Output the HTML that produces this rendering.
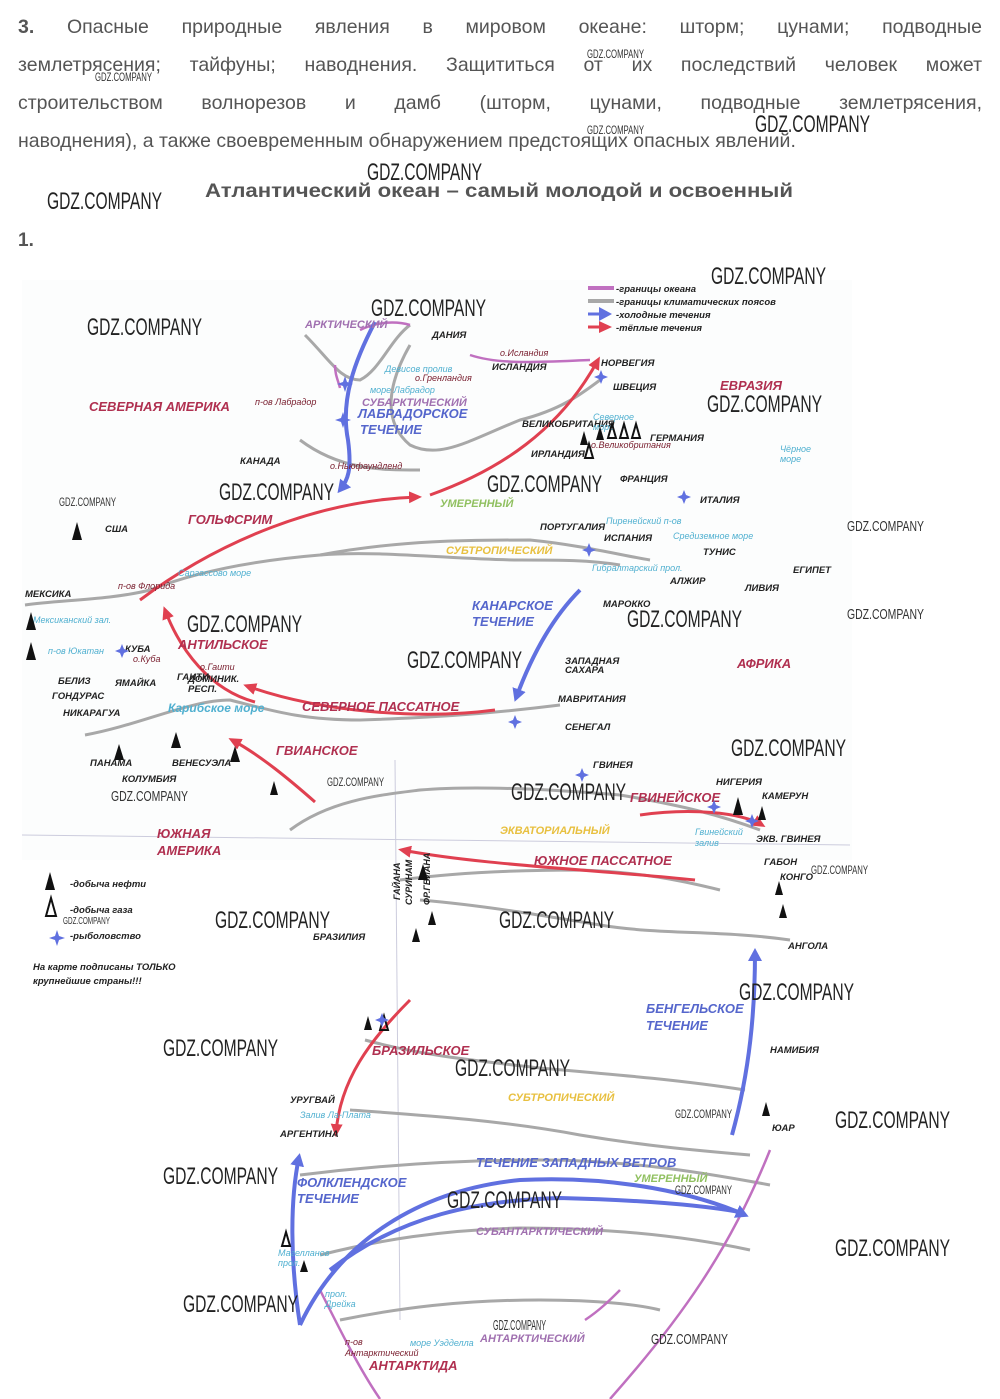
<!DOCTYPE html>
<html><head><meta charset="utf-8">
<style>
html,body{margin:0;padding:0;background:#fff;}
body{width:1000px;height:1399px;position:relative;overflow:hidden;font-family:"Liberation Sans",sans-serif;}
.p{position:absolute;left:18px;width:964px;font-size:19.5px;color:#555;line-height:38px;text-align:justify;text-align-last:justify;}
svg{position:absolute;left:0;top:0;}
.wm{font-family:"Liberation Sans",sans-serif;fill:#222;font-size:24px;}
.wms{font-family:"Liberation Sans",sans-serif;fill:#333;font-size:12px;}
.red{fill:#b03050;font-weight:bold;font-style:italic;font-size:13px;}
.blu{fill:#5566cc;font-weight:bold;font-style:italic;font-size:13px;}
.blk{fill:#222;font-weight:bold;font-style:italic;font-size:9.5px;}
.yel{fill:#e8c040;font-weight:bold;font-style:italic;font-size:11px;}
.vio{fill:#a070b0;font-weight:bold;font-style:italic;font-size:11px;}
.sea{fill:#50b0d0;font-style:italic;font-size:9px;}
.g{fill:none;stroke:#a8a8a8;stroke-width:3;}
.pu{fill:none;stroke:#c070c0;stroke-width:2.5;}
.r{fill:none;stroke:#e04050;stroke-width:3;}
.b{fill:none;stroke:#6070e0;stroke-width:4;}
</style></head><body>
<div class="p" style="top:8px"><b>3.</b> Опасные природные явления в мировом океане: шторм; цунами; подводные</div>
<div class="p" style="top:46px">землетрясения; тайфуны; наводнения. Защититься от их последствий человек может</div>
<div class="p" style="top:84px">строительством волнорезов и дамб (шторм, цунами, подводные землетрясения,</div>
<div class="p" style="top:122px;text-align-last:left">наводнения), а также своевременным обнаружением предстоящих опасных явлений.</div>
<svg width="1000" height="1399" viewBox="0 0 1000 1399">
<defs>
<marker id="ar" markerWidth="14" markerHeight="12" refX="9" refY="6" orient="auto" markerUnits="userSpaceOnUse"><path d="M0,0 L13,6 L0,12 z" fill="#e04050"/></marker>
<marker id="ab" markerWidth="14" markerHeight="14" refX="9" refY="7" orient="auto" markerUnits="userSpaceOnUse"><path d="M0,0 L13,7 L0,14 z" fill="#6070e0"/></marker>
</defs>
<text x="205" y="197" font-size="19" font-weight="bold" fill="#555" textLength="588" lengthAdjust="spacingAndGlyphs">Атлантический океан – самый молодой и освоенный</text>
<text x="18" y="246" font-size="19" font-weight="bold" fill="#555">1.</text>
<rect x="22" y="280" width="830" height="580" fill="#fcfdfd"/>
<path d="M395,760 L400,1320" stroke="#ccd" stroke-width="1" fill="none"/>
<path d="M22,835 L850,845" stroke="#ccd" stroke-width="1" fill="none"/>
<path class="g" d="M305,335 C330,360 340,380 360,380 C380,370 390,340 410,325"/>
<path class="g" d="M410,345 C390,380 380,420 410,445 C440,460 470,440 520,420 C560,410 580,395 600,380"/>
<path class="g" d="M300,440 C340,470 380,470 420,470"/>
<path class="g" d="M25,605 C60,600 110,600 150,590 C200,570 260,560 320,555 C400,540 470,540 530,540 C580,545 620,555 650,560"/>
<path class="g" d="M320,555 C380,550 460,560 520,560 C560,560 590,560 620,565"/>
<path class="g" d="M85,735 C140,725 190,700 230,700 C270,710 300,720 360,720 C420,718 480,715 560,705"/>
<path class="g" d="M290,830 C330,800 380,795 420,790 C480,785 560,790 620,795 C680,805 720,815 760,830"/>
<path class="g" d="M400,880 C460,872 520,870 580,870 C640,872 680,880 720,890"/>
<path class="g" d="M420,900 C480,905 540,915 600,925 C660,935 720,930 790,940"/>
<path class="g" d="M365,1040 C420,1055 470,1060 540,1068 C620,1075 680,1080 745,1090"/>
<path class="g" d="M350,1110 C420,1115 500,1120 580,1135 C640,1145 690,1150 750,1155"/>
<path class="g" d="M300,1175 C380,1165 460,1160 540,1160 C620,1160 690,1170 770,1185"/>
<path class="g" d="M320,1255 C380,1240 440,1230 520,1228 C600,1228 680,1235 750,1250"/>
<path class="g" d="M340,1320 C400,1308 460,1300 540,1300 C600,1300 640,1305 660,1310"/>
<path class="pu" d="M360,330 C380,320 400,322 410,325"/>
<path class="pu" d="M335,365 C335,375 338,380 340,388"/>
<path class="pu" d="M470,355 C500,365 540,362 590,360"/>
<path class="pu" d="M770,1150 C730,1250 680,1320 610,1399"/>
<path class="pu" d="M320,1290 C340,1330 360,1370 380,1399"/>
<path class="pu" d="M585,1320 C600,1310 610,1300 620,1290"/>
<line x1="588" y1="288" x2="614" y2="288" stroke="#c070c0" stroke-width="4"/>
<line x1="588" y1="301" x2="614" y2="301" stroke="#a8a8a8" stroke-width="4"/>
<line x1="588" y1="314" x2="608" y2="314" stroke="#6070e0" stroke-width="3" marker-end="url(#ab)"/>
<line x1="588" y1="327" x2="608" y2="327" stroke="#e04050" stroke-width="3" marker-end="url(#ar)"/>
<text x="616" y="292" class="blk" font-size="10">-границы океана</text>
<text x="616" y="305" class="blk" font-size="10">-границы климатических поясов</text>
<text x="616" y="318" class="blk" font-size="10">-холодные течения</text>
<text x="616" y="331" class="blk" font-size="10">-тёплые течения</text>
<path class="r" d="M140,600 C220,540 320,500 418,497" marker-end="url(#ar)"/>
<path class="r" d="M430,495 C500,470 560,430 598,360" marker-end="url(#ar)"/>
<path class="r" d="M255,702 C210,690 180,650 165,610" marker-end="url(#ar)"/>
<path class="r" d="M495,710 C420,720 320,712 247,686" marker-end="url(#ar)"/>
<path class="r" d="M315,802 C290,780 260,755 232,740" marker-end="url(#ar)"/>
<path class="r" d="M640,815 C690,808 740,812 762,825" marker-end="url(#ar)"/>
<path class="r" d="M695,880 C600,870 480,865 402,850" marker-end="url(#ar)"/>
<path class="r" d="M410,1000 C370,1040 340,1080 336,1133" marker-end="url(#ar)"/>
<path class="b" d="M375,322 C355,360 340,400 348,440 C352,470 348,480 340,490" marker-end="url(#ab)"/>
<path class="b" d="M580,590 C550,620 530,660 516,698" marker-end="url(#ab)"/>
<path class="b" d="M732,1135 C750,1070 755,1010 755,952" marker-end="url(#ab)"/>
<path class="b" d="M300,1325 C290,1260 290,1200 299,1157" marker-end="url(#ab)"/>
<path class="b" d="M300,1325 C340,1240 420,1190 520,1180 C620,1175 700,1195 745,1215" marker-end="url(#ab)"/>
<path class="b" d="M330,1270 C400,1215 480,1200 560,1198 C640,1200 700,1205 740,1212"/>
<text x="89" y="411" class="red">СЕВЕРНАЯ АМЕРИКА</text>
<text x="720" y="390" class="red">ЕВРАЗИЯ</text>
<text x="188" y="524" class="red">ГОЛЬФСРИМ</text>
<text x="178" y="649" class="red">АНТИЛЬСКОЕ</text>
<text x="302" y="711" class="red">СЕВЕРНОЕ ПАССАТНОЕ</text>
<text x="276" y="755" class="red">ГВИАНСКОЕ</text>
<text x="630" y="802" class="red">ГВИНЕЙСКОЕ</text>
<text x="534" y="865" class="red">ЮЖНОЕ ПАССАТНОЕ</text>
<text x="372" y="1055" class="red">БРАЗИЛЬСКОЕ</text>
<text x="737" y="668" class="red">АФРИКА</text>
<text x="157" y="838" class="red">ЮЖНАЯ</text>
<text x="157" y="855" class="red">АМЕРИКА</text>
<text x="369" y="1370" class="red">АНТАРКТИДА</text>
<text x="358" y="418" class="blu">ЛАБРАДОРСКОЕ</text>
<text x="360" y="434" class="blu">ТЕЧЕНИЕ</text>
<text x="472" y="610" class="blu">КАНАРСКОЕ</text>
<text x="472" y="626" class="blu">ТЕЧЕНИЕ</text>
<text x="646" y="1013" class="blu">БЕНГЕЛЬСКОЕ</text>
<text x="646" y="1030" class="blu">ТЕЧЕНИЕ</text>
<text x="297" y="1187" class="blu">ФОЛКЛЕНДСКОЕ</text>
<text x="297" y="1203" class="blu">ТЕЧЕНИЕ</text>
<text x="476" y="1167" class="blu" font-size="12">ТЕЧЕНИЕ ЗАПАДНЫХ ВЕТРОВ</text>
<text x="305" y="328" class="vio">АРКТИЧЕСКИЙ</text>
<text x="362" y="406" class="vio">СУБАРКТИЧЕСКИЙ</text>
<text x="446" y="554" class="yel">СУБТРОПИЧЕСКИЙ</text>
<text x="440" y="507" style="fill:#90c060;font-weight:bold;font-style:italic;font-size:11px">УМЕРЕННЫЙ</text>
<text x="500" y="834" class="yel">ЭКВАТОРИАЛЬНЫЙ</text>
<text x="508" y="1101" class="yel">СУБТРОПИЧЕСКИЙ</text>
<text x="476" y="1235" class="vio">СУБАНТАРКТИЧЕСКИЙ</text>
<text x="634" y="1182" style="fill:#90c060;font-weight:bold;font-style:italic;font-size:11px">УМЕРЕННЫЙ</text>
<text x="480" y="1342" class="vio">АНТАРКТИЧЕСКИЙ</text>
<g class="blk">
<text x="432" y="338">ДАНИЯ</text><text x="492" y="370">ИСЛАНДИЯ</text><text x="601" y="366">НОРВЕГИЯ</text>
<text x="613" y="390">ШВЕЦИЯ</text><text x="522" y="427">ВЕЛИКОБРИТАНИЯ</text><text x="531" y="457">ИРЛАНДИЯ</text>
<text x="650" y="441">ГЕРМАНИЯ</text><text x="620" y="482">ФРАНЦИЯ</text><text x="700" y="503">ИТАЛИЯ</text>
<text x="540" y="530">ПОРТУГАЛИЯ</text><text x="604" y="541">ИСПАНИЯ</text><text x="703" y="555">ТУНИС</text>
<text x="670" y="584">АЛЖИР</text><text x="745" y="591">ЛИВИЯ</text><text x="793" y="573">ЕГИПЕТ</text>
<text x="603" y="607">МАРОККО</text><text x="565" y="664">ЗАПАДНАЯ</text><text x="565" y="673">САХАРА</text>
<text x="558" y="702">МАВРИТАНИЯ</text><text x="565" y="730">СЕНЕГАЛ</text><text x="593" y="768">ГВИНЕЯ</text>
<text x="716" y="785">НИГЕРИЯ</text><text x="762" y="799">КАМЕРУН</text><text x="756" y="842">ЭКВ. ГВИНЕЯ</text>
<text x="764" y="865">ГАБОН</text><text x="780" y="880">КОНГО</text><text x="788" y="949">АНГОЛА</text>
<text x="770" y="1053">НАМИБИЯ</text><text x="772" y="1131">ЮАР</text>
<text x="240" y="464">КАНАДА</text><text x="105" y="532">США</text><text x="25" y="597">МЕКСИКА</text>
<text x="125" y="652">КУБА</text><text x="115" y="686">ЯМАЙКА</text><text x="58" y="684">БЕЛИЗ</text>
<text x="52" y="699">ГОНДУРАС</text><text x="63" y="716">НИКАРАГУА</text><text x="177" y="680">ГАИТИ</text>
<text x="188" y="682">ДОМИНИК.</text><text x="188" y="692">РЕСП.</text><text x="90" y="766">ПАНАМА</text>
<text x="122" y="782">КОЛУМБИЯ</text><text x="172" y="766">ВЕНЕСУЭЛА</text><text x="313" y="940">БРАЗИЛИЯ</text>
<text x="290" y="1103">УРУГВАЙ</text><text x="280" y="1137">АРГЕНТИНА</text>
<text x="70" y="887">-добыча нефти</text><text x="70" y="913">-добыча газа</text><text x="70" y="939">-рыболовство</text>
<text x="33" y="970">На карте подписаны ТОЛЬКО</text><text x="33" y="984">крупнейшие страны!!!</text>
</g>
<text x="168" y="712" style="fill:#50b0d0;font-weight:bold;font-style:italic;font-size:12px">Карибское море</text>
<g class="sea">
<text x="385" y="372">Девисов пролив</text><text x="370" y="393">море Лабрадор</text><text x="593" y="420">Северное</text><text x="593" y="430">море</text>
<text x="606" y="524">Пиренейский п-ов</text><text x="673" y="539">Средиземное море</text><text x="592" y="571">Гибралтарский прол.</text>
<text x="178" y="576">Саргассово море</text><text x="33" y="623">Мексиканский зал.</text><text x="48" y="654">п-ов Юкатан</text>
<text x="695" y="835">Гвинейский</text><text x="695" y="846">залив</text><text x="300" y="1118">Залив Ла-Плата</text>
<text x="278" y="1256">Магелланов</text><text x="278" y="1266">прол.</text><text x="325" y="1297">прол.</text><text x="325" y="1307">Дрейка</text>
<text x="410" y="1346">море Уэдделла</text><text x="780" y="452">Чёрное</text><text x="780" y="462">море</text>
</g>
<g font-size="9" font-style="italic" fill="#7a2030">
<text x="255" y="405">п-ов Лабрадор</text><text x="330" y="469">о.Ньюфаундленд</text><text x="415" y="381">о.Гренландия</text>
<text x="500" y="356">о.Исландия</text><text x="591" y="448">о.Великобритания</text><text x="118" y="589">п-ов Флорида</text>
<text x="133" y="662">о.Куба</text><text x="200" y="670">о.Гаити</text><text x="345" y="1345">п-ов</text><text x="345" y="1356">Антарктический</text>
</g>
<g font-weight="bold" font-style="italic" font-size="9" fill="#222">
<text x="400" y="900" transform="rotate(-90 400 900)">ГАЙАНА</text>
<text x="412" y="905" transform="rotate(-90 412 905)">СУРИНАМ</text>
<text x="430" y="905" transform="rotate(-90 430 905)">ФР.ГВИАНА</text>
</g>
<g fill="#111">
<path d="M45,890 l5,-18 l5,18z"/><path d="M26,630 l5,-18 l5,18z"/><path d="M26,660 l5,-18 l5,18z"/>
<path d="M72,540 l5,-18 l5,18z"/><path d="M114,760 l5,-16 l5,16z"/><path d="M171,748 l5,-16 l5,16z"/>
<path d="M230,762 l5,-16 l5,16z"/><path d="M270,795 l4,-14 l4,14z"/><path d="M733,815 l5,-18 l5,18z"/>
<path d="M758,820 l4,-14 l4,14z"/><path d="M775,895 l4,-14 l4,14z"/><path d="M779,918 l4,-14 l4,14z"/>
<path d="M762,1116 l4,-14 l4,14z"/><path d="M418,880 l5,-16 l5,16z"/><path d="M428,925 l4,-14 l4,14z"/>
<path d="M412,942 l4,-14 l4,14z"/><path d="M364,1030 l4,-14 l4,14z"/><path d="M300,1272 l4,-12 l4,12z"/>
<path d="M580,445 l4,-14 l4,14z"/><path d="M596,440 l4,-14 l4,14z"/>
</g>
<g fill="none" stroke="#111" stroke-width="2">
<path d="M46,916 l5,-18 l5,18z"/><path d="M585,458 l4,-14 l4,14z"/><path d="M608,438 l4,-14 l4,14z"/>
<path d="M620,438 l4,-14 l4,14z"/><path d="M632,438 l4,-14 l4,14z"/><path d="M282,1246 l4,-14 l4,14z"/>
<path d="M380,1030 l4,-14 l4,14z"/>
</g>
<g fill="#6070e0">
<path d="M57,930 l2,6 l6,2 l-6,2 l-2,6 l-2,-6 l-6,-2 l6,-2z"/>
<path d="M345,376 l2,6 l6,2 l-6,2 l-2,6 l-2,-6 l-6,-2 l6,-2z"/>
<path d="M343,412 l2,6 l6,2 l-6,2 l-2,6 l-2,-6 l-6,-2 l6,-2z"/>
<path d="M601,370 l2,5 l5,2 l-5,2 l-2,5 l-2,-5 l-5,-2 l5,-2z"/>
<path d="M684,490 l2,5 l5,2 l-5,2 l-2,5 l-2,-5 l-5,-2 l5,-2z"/>
<path d="M589,543 l2,5 l5,2 l-5,2 l-2,5 l-2,-5 l-5,-2 l5,-2z"/>
<path d="M122,644 l2,5 l5,2 l-5,2 l-2,5 l-2,-5 l-5,-2 l5,-2z"/>
<path d="M515,715 l2,5 l5,2 l-5,2 l-2,5 l-2,-5 l-5,-2 l5,-2z"/>
<path d="M582,768 l2,5 l5,2 l-5,2 l-2,5 l-2,-5 l-5,-2 l5,-2z"/>
<path d="M714,800 l2,5 l5,2 l-5,2 l-2,5 l-2,-5 l-5,-2 l5,-2z"/>
<path d="M752,814 l2,5 l5,2 l-5,2 l-2,5 l-2,-5 l-5,-2 l5,-2z"/>
<path d="M382,1013 l2,5 l5,2 l-5,2 l-2,5 l-2,-5 l-5,-2 l5,-2z"/>
</g>
<g class="wm">
<text x="47" y="209" textLength="115" lengthAdjust="spacingAndGlyphs">GDZ.COMPANY</text><text x="367" y="180" textLength="115" lengthAdjust="spacingAndGlyphs">GDZ.COMPANY</text><text x="755" y="132" textLength="115" lengthAdjust="spacingAndGlyphs">GDZ.COMPANY</text>
<text x="711" y="284" textLength="115" lengthAdjust="spacingAndGlyphs">GDZ.COMPANY</text><text x="371" y="316" textLength="115" lengthAdjust="spacingAndGlyphs">GDZ.COMPANY</text><text x="87" y="335" textLength="115" lengthAdjust="spacingAndGlyphs">GDZ.COMPANY</text>
<text x="707" y="412" textLength="115" lengthAdjust="spacingAndGlyphs">GDZ.COMPANY</text><text x="219" y="500" textLength="115" lengthAdjust="spacingAndGlyphs">GDZ.COMPANY</text><text x="487" y="492" textLength="115" lengthAdjust="spacingAndGlyphs">GDZ.COMPANY</text>
<text x="187" y="632" textLength="115" lengthAdjust="spacingAndGlyphs">GDZ.COMPANY</text><text x="627" y="627" textLength="115" lengthAdjust="spacingAndGlyphs">GDZ.COMPANY</text><text x="407" y="668" textLength="115" lengthAdjust="spacingAndGlyphs">GDZ.COMPANY</text>
<text x="731" y="756" textLength="115" lengthAdjust="spacingAndGlyphs">GDZ.COMPANY</text><text x="511" y="800" textLength="115" lengthAdjust="spacingAndGlyphs">GDZ.COMPANY</text><text x="215" y="928" textLength="115" lengthAdjust="spacingAndGlyphs">GDZ.COMPANY</text>
<text x="499" y="928" textLength="115" lengthAdjust="spacingAndGlyphs">GDZ.COMPANY</text><text x="739" y="1000" textLength="115" lengthAdjust="spacingAndGlyphs">GDZ.COMPANY</text><text x="163" y="1056" textLength="115" lengthAdjust="spacingAndGlyphs">GDZ.COMPANY</text>
<text x="455" y="1076" textLength="115" lengthAdjust="spacingAndGlyphs">GDZ.COMPANY</text><text x="835" y="1128" textLength="115" lengthAdjust="spacingAndGlyphs">GDZ.COMPANY</text><text x="163" y="1184" textLength="115" lengthAdjust="spacingAndGlyphs">GDZ.COMPANY</text>
<text x="447" y="1208" textLength="115" lengthAdjust="spacingAndGlyphs">GDZ.COMPANY</text><text x="835" y="1256" textLength="115" lengthAdjust="spacingAndGlyphs">GDZ.COMPANY</text><text x="183" y="1312" textLength="115" lengthAdjust="spacingAndGlyphs">GDZ.COMPANY</text>
</g>
<g class="wms">
<text x="95" y="81" textLength="57" lengthAdjust="spacingAndGlyphs">GDZ.COMPANY</text><text x="587" y="58" textLength="57" lengthAdjust="spacingAndGlyphs">GDZ.COMPANY</text><text x="587" y="134" textLength="57" lengthAdjust="spacingAndGlyphs">GDZ.COMPANY</text>
<text x="59" y="506" textLength="57" lengthAdjust="spacingAndGlyphs">GDZ.COMPANY</text><text x="847" y="531" textLength="77" lengthAdjust="spacingAndGlyphs" font-size="15">GDZ.COMPANY</text><text x="847" y="619" textLength="77" lengthAdjust="spacingAndGlyphs" font-size="15">GDZ.COMPANY</text>
<text x="327" y="786" textLength="57" lengthAdjust="spacingAndGlyphs">GDZ.COMPANY</text><text x="111" y="801" font-size="15" textLength="77" lengthAdjust="spacingAndGlyphs">GDZ.COMPANY</text><text x="811" y="874" textLength="57" lengthAdjust="spacingAndGlyphs">GDZ.COMPANY</text>
<text x="63" y="924" textLength="47" lengthAdjust="spacingAndGlyphs" font-size="10">GDZ.COMPANY</text><text x="675" y="1118" textLength="57" lengthAdjust="spacingAndGlyphs">GDZ.COMPANY</text><text x="675" y="1194" textLength="57" lengthAdjust="spacingAndGlyphs">GDZ.COMPANY</text>
<text x="493" y="1330" font-size="15" textLength="53" lengthAdjust="spacingAndGlyphs">GDZ.COMPANY</text><text x="651" y="1344" font-size="15" textLength="77" lengthAdjust="spacingAndGlyphs">GDZ.COMPANY</text>
</g>
</svg>
</body></html>
